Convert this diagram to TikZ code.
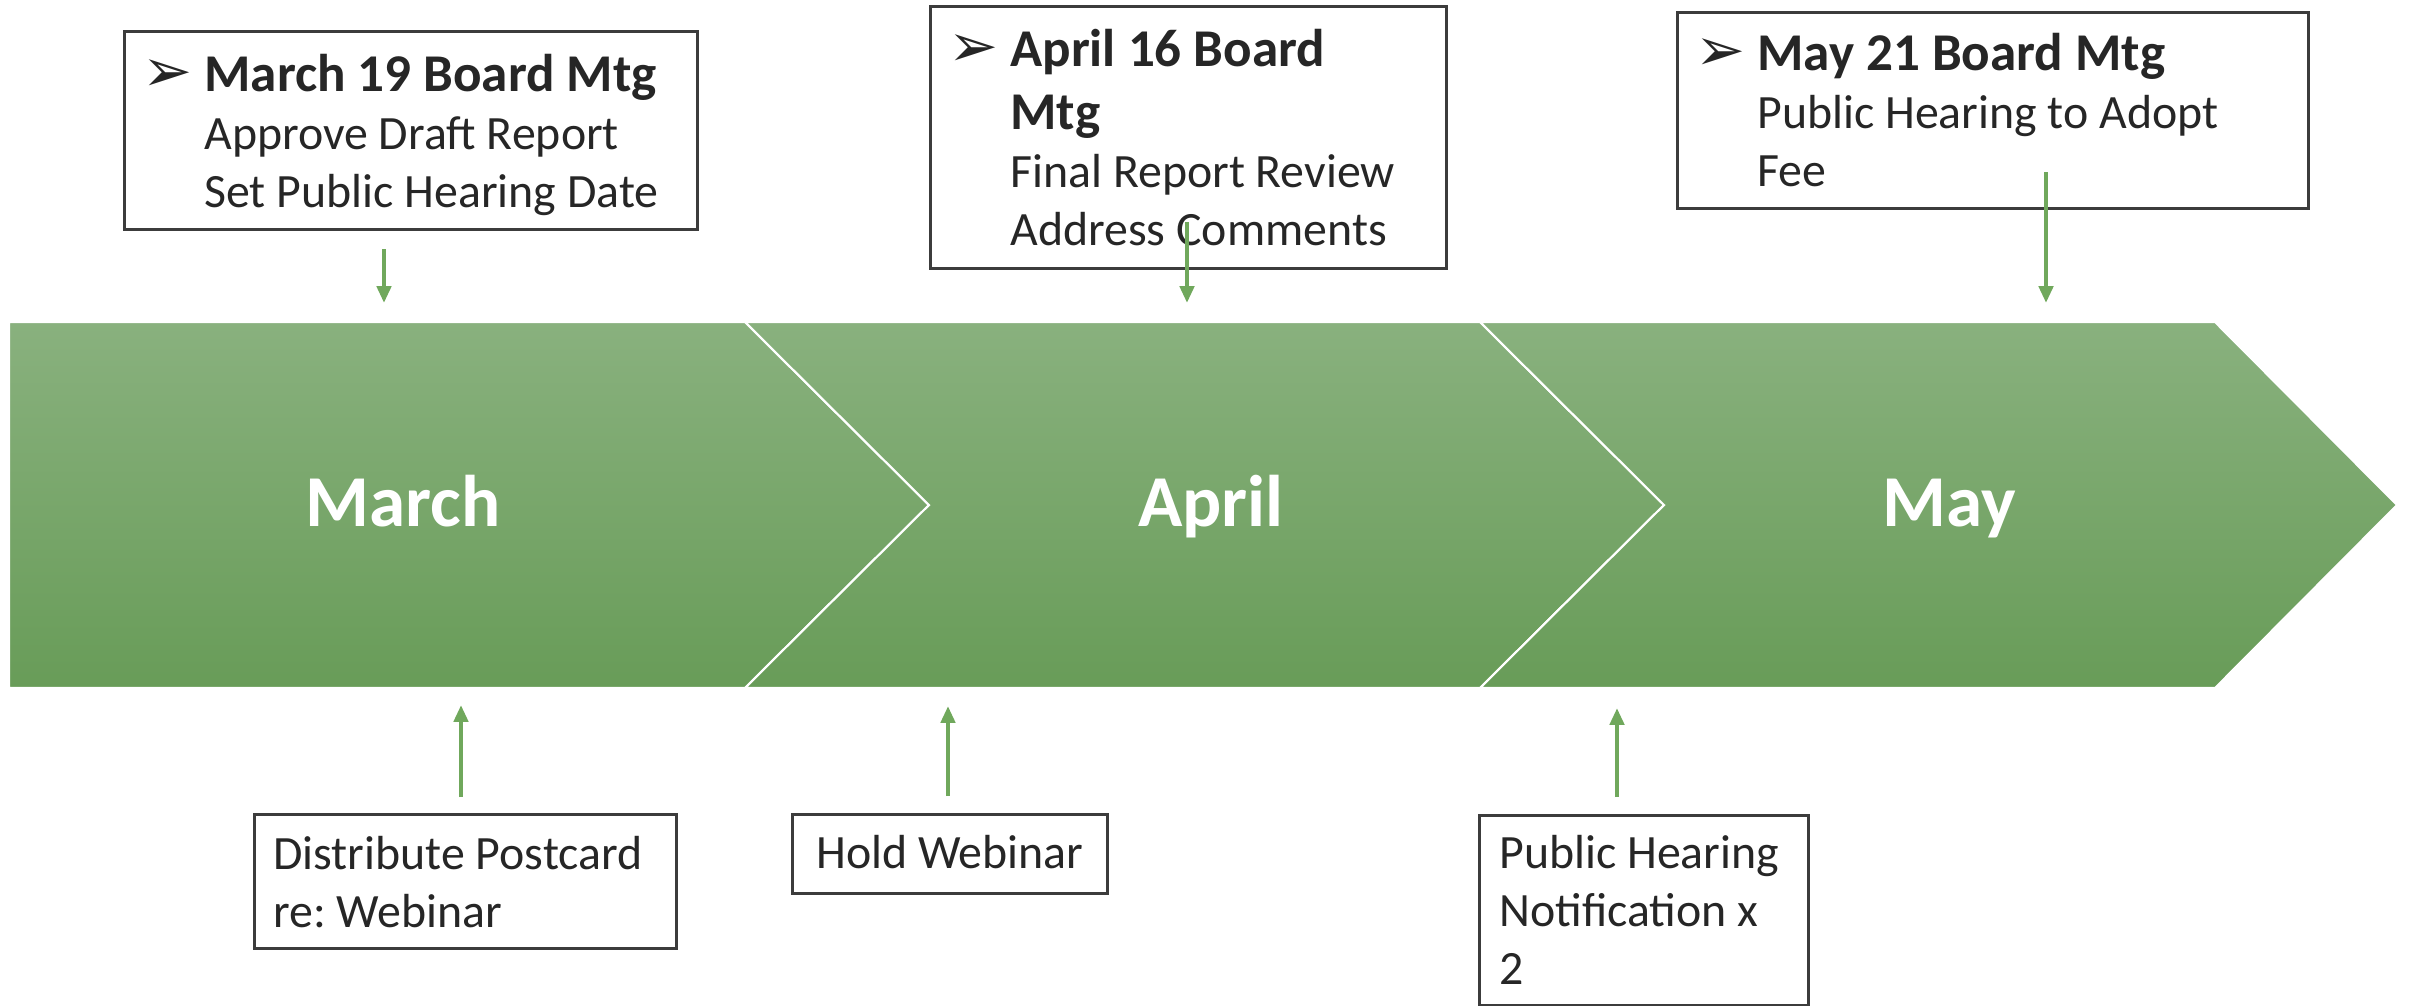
\documentclass[tikz,border=0pt]{standalone}
\usepackage{fontspec}
\setmainfont{Carlito}
\newfontfamily\dingfont{DejaVu Sans}
\usetikzlibrary{arrows.meta}
\frenchspacing
\definecolor{mygreen}{RGB}{112,168,92}
\definecolor{mytop}{RGB}{137,177,126}
\definecolor{mybottom}{RGB}{104,156,88}
\definecolor{mytext}{RGB}{38,38,38}
\tikzstyle{mychevron}=[top color=mytop,bottom color=mybottom,draw=white,line width=0.6pt]
\tikzstyle{mymonth}=[text=white,font=\fontsize{20.8}{25}\selectfont\bfseries,anchor=base]
\tikzstyle{mybox}=[draw=mytext!90,line width=0.75pt,text=mytext,anchor=north west,inner ysep=0pt,align=flush left,font=\fontsize{13.6}{16.5}\selectfont]
\tikzstyle{myarrow}=[mygreen,line width=1.2pt,-{Triangle[length=4.8pt,width=4pt]}]
\newcommand{\mtgbul}{\makebox[0.55cm][l]{\hspace*{-0.07cm}\dingfont\fontsize{17}{17}\selectfont ➢}}
\newcommand{\mtgtitle}[1]{{\fontsize{15.1}{16.5}\selectfont\bfseries #1}}

\begin{document}
\begin{tikzpicture}[x=0.01cm,y=-0.01cm]
	\useasboundingbox (0,0) rectangle (2409,1005);

	% the three months
	\draw[mychevron] (9,322) -- (745,322) -- (929,505) -- (745,688) -- (9,688) -- cycle;
	\draw[mychevron] (745,322) -- (1480,322) -- (1664,505) -- (1480,688) -- (745,688) -- (929,505) -- cycle;
	\draw[mychevron] (1480,322) -- (2215,322) -- (2397,505) -- (2215,688) -- (1480,688) -- (1664,505) -- cycle;
	\node[mymonth] (march) at (403,526) {March};
	\node[mymonth] (april) at (1211,526) {April};
	\node[mymonth] (may) at (1949,526) {May};

	% board meetings
	\node[mybox,inner xsep=0.25cm,text width=5.23cm] (mar19) at (123,30) {\mtgbul\rule{0pt}{0.6cm}\mtgtitle{March 19 Board Mtg}\\
		\hspace*{0.55cm}Approve Draft Report\\
		\hspace*{0.55cm}Set Public Hearing Date\rule[-0.22cm]{0pt}{0.22cm}};
	\node[mybox,inner xsep=0.25cm,text width=4.66cm] (apr16) at (929,5) {\mtgbul\rule{0pt}{0.6cm}\mtgtitle{April 16 Board\\[1.4pt]\hspace*{0.55cm}Mtg}\\
		\hspace*{0.55cm}Final Report Review\\
		\hspace*{0.55cm}Address Comments\rule[-0.23cm]{0pt}{0.23cm}};
	\node[mybox,inner xsep=0.25cm,text width=5.81cm] (may21) at (1676,11) {\mtgbul\rule{0pt}{0.58cm}\mtgtitle{May 21 Board Mtg}\\
		\hspace*{0.55cm}Public Hearing to Adopt\\
		\hspace*{0.55cm}Fee\rule[-0.22cm]{0pt}{0.22cm}};

	% outreach
	\node[mybox,inner xsep=0.19cm,text width=3.84cm] (postcard) at (253,813) {\rule{0pt}{0.55cm}Distribute Postcard\\
		re: Webinar\rule[-0.21cm]{0pt}{0.21cm}};
	\node[mybox,align=left,minimum width=3.15cm] (webinar) at (791,813) {\rule{0pt}{0.54cm}Hold Webinar\rule[-0.25cm]{0pt}{0.25cm}};
	\node[mybox,inner xsep=0.2cm,text width=2.89cm] (notice) at (1478,814) {\rule{0pt}{0.53cm}Public Hearing\\
		Notification x\\
		2\rule[-0.21cm]{0pt}{0.21cm}};

	\foreach \n / \x / \a / \b in {1/384/249/303,2/1187/222/303,3/2046/172/303} {
		\coordinate (top\n) at (\x,\a);
		\coordinate (tip\n) at (\x,\b);
		\draw[myarrow] (top\n) -- (tip\n);}
	\foreach \n / \x / \a / \b in {1/461/797/705,2/948/796/706,3/1617/797/708} {
		\coordinate (low\n) at (\x,\a);
		\coordinate (up\n) at (\x,\b);
		\draw[myarrow] (low\n) -- (up\n);}
\end{tikzpicture}
\end{document}
